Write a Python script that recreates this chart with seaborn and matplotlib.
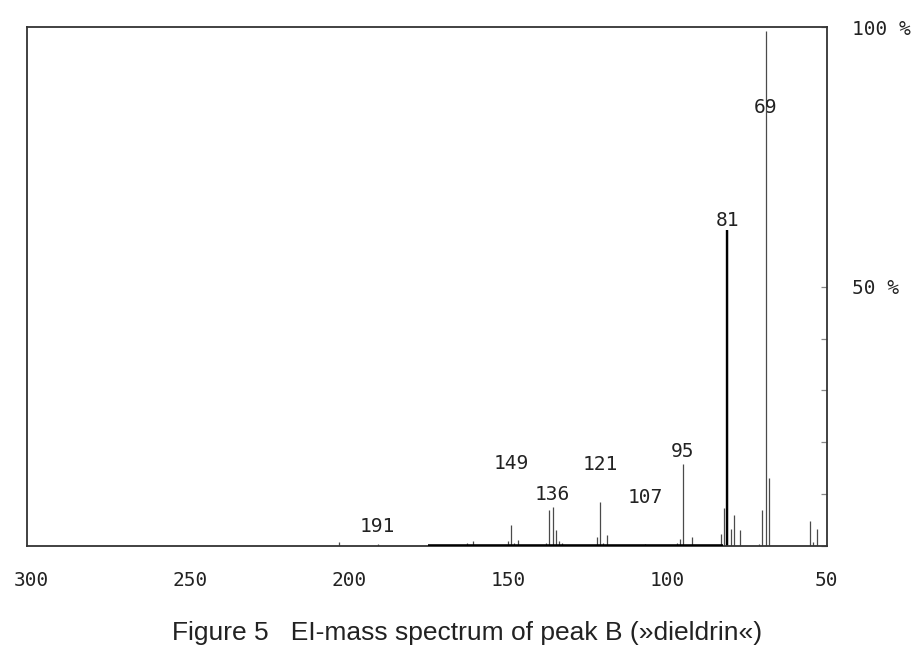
import numpy as np
import pandas as pd
import matplotlib
matplotlib.use("Agg")
import matplotlib.pyplot as plt
import seaborn as sns

# EI mass spectrum of peak B (dieldrin) (x axis runs right to left)
mz = [53, 54, 55, 68, 69, 70, 71, 77, 79, 80, 82, 83, 81,
      92, 95, 96, 97, 107, 119, 120, 121, 122,
      133, 134, 135, 136, 137, 138, 147, 148, 149, 150, 161, 163, 191, 203]
intensity = [3.3, 0.8, 4.8, 13.2, 99.2, 6.9, 0.3, 3.1, 6.0, 3.3, 7.4, 2.3, 61.0,
             1.8, 15.8, 1.4, 0.6, 0.4, 2.2, 0.5, 8.5, 1.8,
             0.6, 0.9, 3.0, 7.6, 6.9, 0.5, 1.2, 0.5, 4.1, 0.9, 0.9, 0.5, 0.3, 0.8]

label_mz = [69, 81, 95, 107, 121, 136, 149, 191]
label_y = [84.6, 62.8, 18.3, 9.4, 15.8, 10.0, 16.0, 3.7]

x_ticks = [50, 100, 150, 200, 250, 300]
y_ticks = [0, 10, 20, 30, 40, 50, 100]
y_ticklabels = ["", "", "", "", "", "50 %", "100 %"]
caption = "Figure 5   EI-mass spectrum of peak B (\u00bbdieldrin\u00ab)"

df = pd.DataFrame({"mz": mz, "intensity": intensity})

sns.set_theme(style="white")
plt.rcParams["font.family"] = ["DejaVu Sans Mono", "DejaVu Sans"]

fig = plt.figure(figsize=(9.23, 6.5), dpi=100)
ax = fig.add_axes([0.029, 0.16, 0.867, 0.798])

# sticks
ax.vlines(df["mz"], 0, df["intensity"], color="#4a4a4a", lw=0.9)
base = df[df["mz"] == 81]
ax.vlines(base["mz"], 0, base["intensity"], color="black", lw=1.7)
# dense low-level region shows as a heavy baseline
ax.hlines(0, 82.5, 175, color="black", lw=2.6, zorder=3)

for m, y in zip(label_mz, label_y):
    ax.text(m, y, str(m), ha="center", va="center", fontsize=14, color="#222222")

ax.set_xlim(301.3, 49.7)
ax.set_ylim(0, 100)

ax.set_xticks(x_ticks)
ax.set_xticklabels([str(t) for t in x_ticks], fontsize=14, color="#222222")
ax.tick_params(axis="x", direction="out", length=16, width=0.9, color="#888888", pad=2)

ax.yaxis.tick_right()
ax.set_yticks(y_ticks)
ax.set_yticklabels(y_ticklabels, fontsize=14, color="#222222")
ax.tick_params(axis="y", direction="in", length=4, width=0.9, color="#888888", pad=18)

for side in ["top", "left", "right", "bottom"]:
    ax.spines[side].set_color("#333333")
    ax.spines[side].set_linewidth(1.3)
ax.set_xlabel("")
ax.set_ylabel("")

fig.text(0.506, 0.026, caption, ha="center", va="center", fontsize=19,
         family=["Liberation Sans", "DejaVu Sans"], color="#222222")

fig.savefig("out.png", dpi=100, facecolor="white")
